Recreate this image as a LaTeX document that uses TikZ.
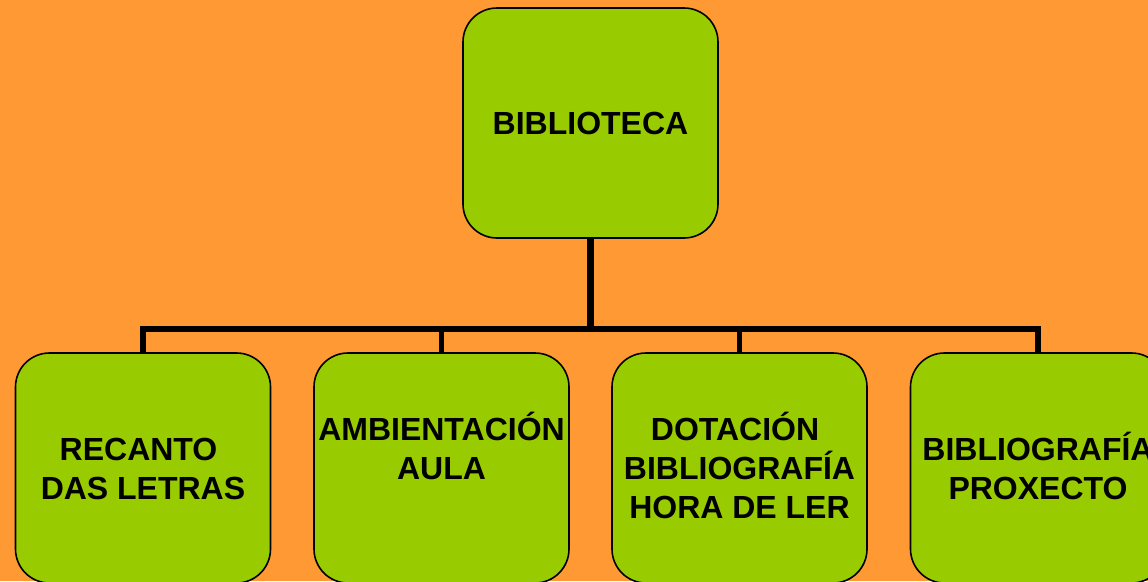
\documentclass[tikz,border=0pt]{standalone}
\usepackage{fontspec}
\setmainfont{Liberation Sans}
\definecolor{bgorange}{RGB}{255,153,51}
\definecolor{boxgreen}{RGB}{153,204,0}
\begin{document}
\begin{tikzpicture}[x=1pt,y=-1pt,
  box/.style={draw=black, line width=1.6pt, fill=boxgreen, rounded corners=34pt,
    minimum width=255pt, minimum height=230pt, inner sep=0pt, align=center,
    font=\bfseries\fontsize{32}{39}\selectfont, text height=23pt, text depth=0pt},
  twolines/.style={text height=62pt},
  threelines/.style={text height=101pt},
  trunkline/.style={line width=6.5pt},
  conn/.style={line width=5.5pt, line join=miter}]
\clip (0,0) rectangle (1148,581);
\fill[bgorange] (0,0) rectangle (1148,581);
\node[box] (top) at (590.5,123) {BIBLIOTECA};
\node[box, twolines] (b1) at (143,468) {RECANTO\hphantom{I}\\DAS LETRAS};
\node[box, threelines] (b2) at (441.5,468) {AMBIENTACIÓN\\AULA\\\mbox{}};
\node[box, threelines] (b3) at (739.5,468) {DOTACIÓN\hphantom{I}\\BIBLIOGRAFÍA\\HORA DE LER};
\node[box, twolines] (b4) at (1038,468) {BIBLIOGRAFÍA\\PROXECTO};
\coordinate (bus) at (590.5,329);
\draw[trunkline] (top.south) -- (top.south |- bus);
\draw[conn] (b1.north) -- (b1.north |- bus) -- (b4.north |- bus) -- (b4.north);
\draw[conn] (b2.north) -- (b2.north |- bus);
\draw[conn] (b3.north) -- (b3.north |- bus);
\end{tikzpicture}
\end{document}
